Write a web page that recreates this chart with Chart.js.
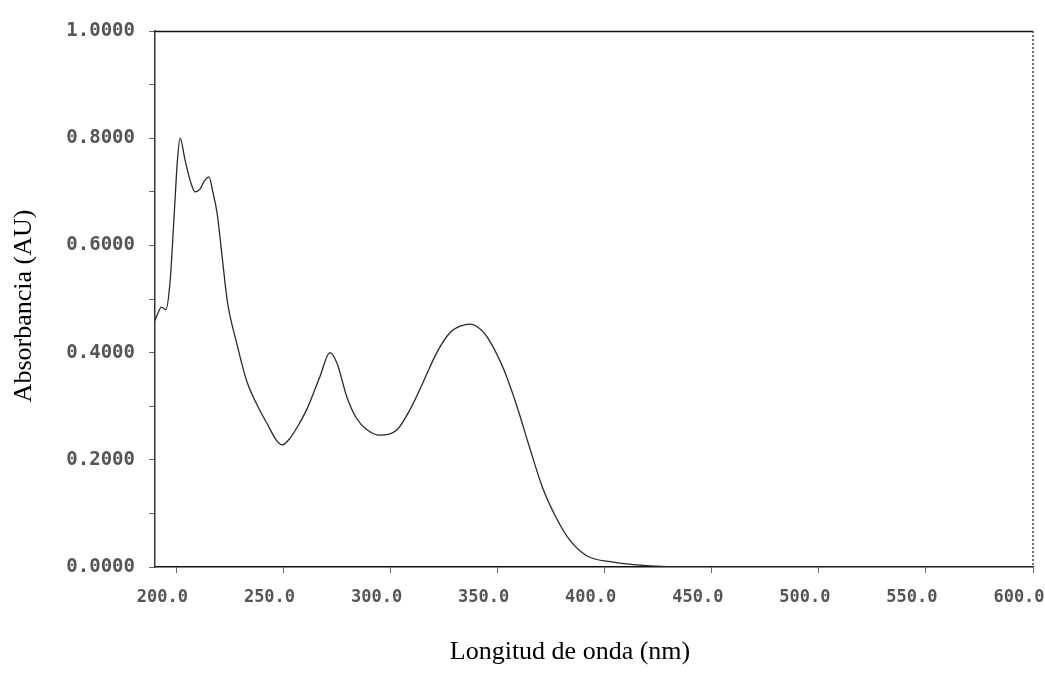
<!DOCTYPE html>
<html>
<head>
<meta charset="utf-8">
<script src="https://cdn.jsdelivr.net/npm/chart.js@4.4.1/dist/chart.umd.min.js"></script>
<style>
  html, body { margin: 0; padding: 0; background: #ffffff; }
  #wrap { position: relative; width: 1045px; height: 677px; }
  canvas { display: block; }
</style>
</head>
<body>
<div id="wrap"><canvas id="c" width="1045" height="677"></canvas></div>
<script>
// Data
const wavelengths = [190,191,193,195,197,199,200.5,201.7,204,206.5,208.7,211,213,215.2,217,219,220.5,222.7,224,228,233,238,242,247,249.5,253,257,261,267,271.7,275,279.6,284,289,295,303,309,315,321.6,327.7,333,337,341,345,352.4,359,365,371,377.6,383.7,391.6,403.8,415,427,450,500,550,600];
const absorbance  = [0.46,0.47,0.485,0.48,0.53,0.66,0.76,0.80,0.76,0.72,0.70,0.705,0.72,0.728,0.70,0.66,0.61,0.53,0.49,0.42,0.345,0.30,0.27,0.235,0.228,0.24,0.265,0.295,0.355,0.40,0.38,0.317,0.278,0.256,0.246,0.256,0.293,0.343,0.40,0.437,0.45,0.453,0.447,0.43,0.373,0.30,0.222,0.148,0.09,0.05,0.021,0.009,0.004,0.001,0,0,0,0];
const xTickValues = [200,250,300,350,400,450,500,550,600];
const yTickValues = [0,0.1,0.2,0.3,0.4,0.5,0.6,0.7,0.8,0.9,1.0];
const xTitle = 'Longitud de onda (nm)';
const yTitle = 'Absorbancia (AU)';

const points = wavelengths.map((w, i) => ({ x: w, y: absorbance[i] }));

const PLOT = { left: 155, right: 1033, top: 31, bottom: 567 };
const W = 1045, H = 677;

const framePlugin = {
  id: 'frame',
  afterDraw(chart) {
    const { ctx, chartArea: a } = chart;
    ctx.save();
    // top border
    ctx.strokeStyle = '#111';
    ctx.lineWidth = 1.5;
    ctx.beginPath();
    ctx.moveTo(a.left, a.top + 0.5);
    ctx.lineTo(a.right, a.top + 0.5);
    ctx.stroke();
    // right border (dotted)
    ctx.strokeStyle = '#444';
    ctx.lineWidth = 1.5;
    ctx.setLineDash([2, 2]);
    ctx.beginPath();
    ctx.moveTo(a.right, a.top);
    ctx.lineTo(a.right, a.bottom);
    ctx.stroke();
    ctx.setLineDash([]);
    // axis titles
    ctx.fillStyle = '#000';
    ctx.font = '26px "Liberation Serif", "Times New Roman", serif';
    ctx.textAlign = 'center';
    ctx.textBaseline = 'middle';
    ctx.fillText(xTitle, 570, 652);
    ctx.translate(24, 306);
    ctx.rotate(-Math.PI / 2);
    ctx.fillText(yTitle, 0, 0);
    ctx.restore();
  }
};

new Chart(document.getElementById('c'), {
  type: 'line',
  data: {
    datasets: [{
      data: points,
      borderColor: '#2a2a2a',
      borderWidth: 1.3,
      pointRadius: 0,
      cubicInterpolationMode: 'monotone',
      fill: false
    }]
  },
  options: {
    responsive: false,
    animation: false,
    layout: { padding: { left: 0, right: W - PLOT.right, top: PLOT.top, bottom: 0 } },
    plugins: { legend: { display: false }, tooltip: { enabled: false } },
    scales: {
      x: {
        type: 'linear',
        min: 190,
        max: 600,
        afterBuildTicks(scale) { scale.ticks = xTickValues.map(v => ({ value: v })); },
        afterFit(scale) { scale.height = H - PLOT.bottom; scale.paddingLeft = 0; scale.paddingRight = 0; },
        border: { display: true, color: '#111', width: 1.5 },
        grid: { drawOnChartArea: false, drawTicks: true, tickLength: 6, color: '#666' },
        ticks: {
          padding: 14,
          labelOffset: -14,
          maxRotation: 0,
          autoSkip: false,
          color: '#555',
          font: { family: '"DejaVu Sans Mono", monospace', size: 17, weight: 'bold' },
          callback: v => Number(v).toFixed(1)
        }
      },
      y: {
        min: 0,
        max: 1,
        afterBuildTicks(scale) { scale.ticks = yTickValues.map(v => ({ value: v })); },
        afterFit(scale) { scale.width = PLOT.left; scale.paddingTop = 0; scale.paddingBottom = 0; },
        border: { display: true, color: '#333', width: 1.5 },
        grid: { drawOnChartArea: false, drawTicks: true, tickLength: 6, color: '#666' },
        ticks: {
          padding: 14,
          autoSkip: false,
          color: '#555',
          font: { family: '"DejaVu Sans Mono", monospace', size: 19, weight: 'bold' },
          callback: (v, i) => (i % 2 === 0 ? Number(v).toFixed(4) : '')
        }
      }
    }
  },
  plugins: [framePlugin]
});
</script>
</body>
</html>
